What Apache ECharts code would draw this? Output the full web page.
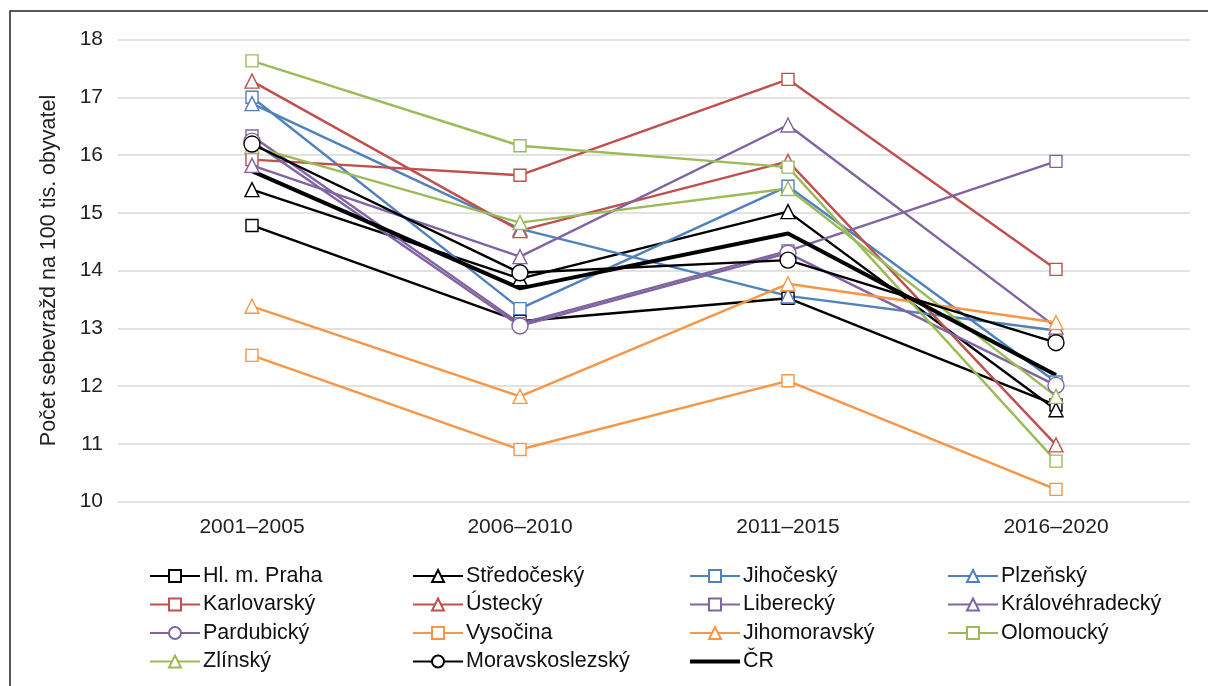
<!DOCTYPE html>
<html>
<head>
<meta charset="utf-8">
<title>Počet sebevražd na 100 tis. obyvatel</title>
<script src="https://cdn.jsdelivr.net/npm/echarts@6/dist/echarts.min.js"></script>
<style>
html, body { margin: 0; padding: 0; background: #fff; }
#sebevrazdy-line { width: 1208px; height: 686px; }
</style>
</head>
<body>
<div id="sebevrazdy-line"></div>
<script>
var obdobi = ['2001–2005', '2006–2010', '2011–2015', '2016–2020'];

var praha = [14.78, 13.12, 13.52, 11.67];
var stredocesky = [15.40, 13.86, 15.02, 11.59];
var jihocesky = [17.00, 13.34, 15.46, 12.07];
var plzensky = [16.89, 14.72, 13.56, 12.96];
var karlovarsky = [15.92, 15.65, 17.31, 14.02];
var ustecky = [17.28, 14.69, 15.89, 10.98];
var liberecky = [16.33, 13.08, 14.34, 15.89];
var kralovehradecky = [15.82, 14.24, 16.52, 13.02];
var pardubicky = [16.24, 13.04, 14.30, 12.01];
var vysocina = [12.53, 10.90, 12.09, 10.21];
var jihomoravsky = [13.38, 11.82, 13.77, 13.10];
var olomoucky = [17.63, 16.16, 15.79, 10.70];
var zlinsky = [16.15, 14.83, 15.42, 11.82];
var moravskoslezsky = [16.19, 13.96, 14.18, 12.75];
var cr = [15.72, 13.69, 14.64, 12.19];

var yTicks = [10, 11, 12, 13, 14, 15, 16, 17, 18];

// legend columns, read row by row in the picture
var legendColumns = [
	['Hl. m. Praha', 'Karlovarský', 'Pardubický', 'Zlínský'],
	['Středočeský', 'Ústecký', 'Vysočina', 'Moravskoslezský'],
	['Jihočeský', 'Liberecký', 'Jihomoravský', {name: 'ČR', itemStyle: {opacity: 0}, lineStyle: {width: 4}}],
	['Plzeňský', 'Královéhradecký', 'Olomoucký']
];

var FONT = 'Liberation Sans, Arial, sans-serif';

function lineSeries(name, data, color, symbol, size) {
	return {
		name: name,
		type: 'line',
		data: data,
		symbol: symbol,
		symbolSize: size,
		showAllSymbol: true,
		animation: false,
		lineStyle: { color: color, width: 2.4 },
		itemStyle: { color: '#fff', borderColor: color, borderWidth: 1.4 }
	};
}

function initSebevrazdyLine() {
	var blue = '#4F81BD', red = '#C0504D', purple = '#8064A2',
		orange = '#F79646', green = '#9BBB59', black = '#000';

	var series = [
		lineSeries('Hl. m. Praha', praha, black, 'rect', 12),
		lineSeries('Středočeský', stredocesky, black, 'triangle', 14),
		lineSeries('Jihočeský', jihocesky, blue, 'rect', 12),
		lineSeries('Plzeňský', plzensky, blue, 'triangle', 14),
		lineSeries('Karlovarský', karlovarsky, red, 'rect', 12),
		lineSeries('Ústecký', ustecky, red, 'triangle', 14),
		lineSeries('Liberecký', liberecky, purple, 'rect', 12),
		lineSeries('Královéhradecký', kralovehradecky, purple, 'triangle', 14),
		lineSeries('Pardubický', pardubicky, purple, 'circle', 16),
		lineSeries('Vysočina', vysocina, orange, 'rect', 12),
		lineSeries('Jihomoravský', jihomoravsky, orange, 'triangle', 14),
		lineSeries('Olomoucký', olomoucky, green, 'rect', 12),
		lineSeries('Zlínský', zlinsky, green, 'triangle', 14),
		lineSeries('Moravskoslezský', moravskoslezsky, black, 'circle', 16),
		{
			name: 'ČR',
			type: 'line',
			data: cr,
			symbol: 'none',
			animation: false,
			lineStyle: { color: black, width: 4 },
			itemStyle: { color: black }
		}
	];

	var legendLeft = [144, 407, 683, 942];
	var legends = [];
	$each(legendColumns, function(i, col) {
		legends.push({
			orient: 'vertical',
			left: legendLeft[i],
			top: 560,
			itemWidth: 50,
			itemHeight: 15,
			itemGap: 6.5,
			data: col,
			textStyle: { fontFamily: FONT, fontSize: 21.5, color: '#111', padding: [0, 0, 0, -2] }
		});
	});

	var option = {
		backgroundColor: '#fff',
		animation: false,
		grid: { left: 118, right: 18, top: 39.5, bottom: 184.5 },
		legend: legends,
		xAxis: {
			type: 'category',
			data: obdobi,
			boundaryGap: true,
			axisLine: { show: false },
			axisTick: { show: false },
			axisLabel: { fontFamily: FONT, fontSize: 21, color: '#222', margin: 15 }
		},
		yAxis: {
			type: 'value',
			min: yTicks[0],
			max: yTicks[yTicks.length - 1],
			interval: 1,
			name: 'Počet sebevražd na 100 tis. obyvatel',
			nameLocation: 'middle',
			nameGap: 58,
			nameTextStyle: { fontFamily: FONT, fontSize: 21.5, color: '#222' },
			axisLine: { show: false },
			axisTick: { show: false },
			axisLabel: { fontFamily: FONT, fontSize: 21, color: '#222', margin: 15 },
			splitLine: { lineStyle: { color: '#d9d9d9', width: 1.5 } }
		},
		graphic: [{
			type: 'rect',
			silent: true,
			shape: { x: 10, y: 11, width: 1210, height: 700 },
			style: { fill: 'none', stroke: '#222', lineWidth: 1.5 }
		}],
		series: series
	};

	var chart = echarts.init(document.getElementById('sebevrazdy-line'), null, { renderer: 'canvas' });
	chart.setOption(option);
}

function $each(arr, fn) {
	for (var i = 0; i < arr.length; i++) {
		fn(i, arr[i]);
	}
}

initSebevrazdyLine();
</script>
</body>
</html>
